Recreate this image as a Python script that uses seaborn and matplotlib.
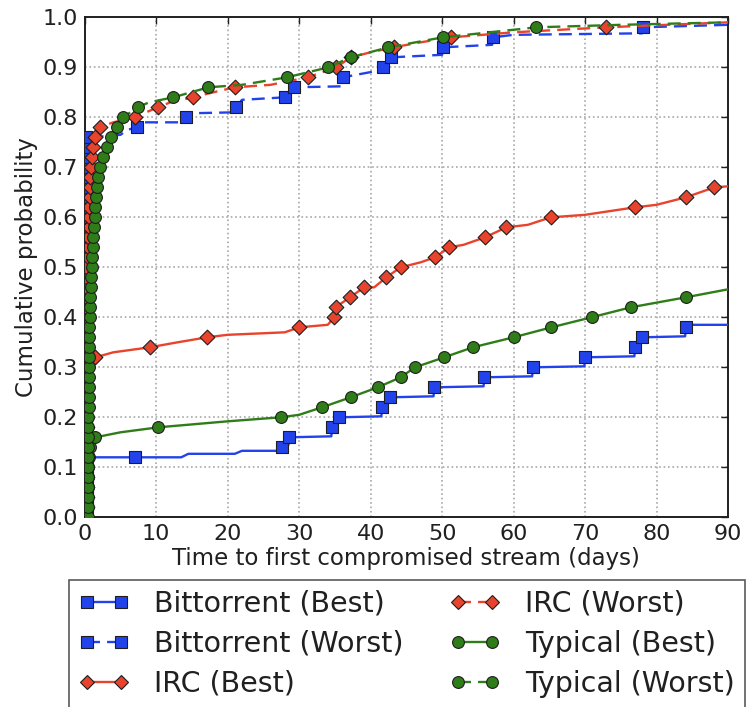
import matplotlib
matplotlib.use("Agg")
import matplotlib.pyplot as plt
import seaborn as sns
from matplotlib.lines import Line2D

# ---------------- data ----------------
labels = ["Bittorrent (Best)", "Bittorrent (Worst)", "IRC (Best)",
          "IRC (Worst)", "Typical (Best)", "Typical (Worst)"]

# Bittorrent (Best): line vertices and marker points
bt_best_x = [0.3, 0.3, 13.5, 14.5, 21, 22, 27.5, 27.6, 28.5, 28.6, 34.5, 34.6, 35.6, 41.5, 41.6,
             42.7, 48.8, 48.9, 55.8, 55.9, 62.6, 62.7, 69.9, 70, 76.9, 77, 78, 84, 84.1, 84.5, 90]
bt_best_y = [0.0, 0.12, 0.12, 0.127, 0.127, 0.133, 0.133, 0.14, 0.145, 0.16, 0.162, 0.18, 0.20, 0.202, 0.22,
             0.24, 0.242, 0.26, 0.262, 0.28, 0.282, 0.30, 0.302, 0.32, 0.322, 0.34, 0.36, 0.362, 0.38, 0.385, 0.385]
bt_best_mx = [0.3, 0.3, 0.3, 0.3, 0.3, 7, 27.6, 28.6, 34.6, 35.6, 41.6, 42.7, 48.9, 55.9, 62.7, 70, 77, 78, 84.1]
bt_best_my = [0.02, 0.04, 0.06, 0.08, 0.10, 0.12, 0.14, 0.16, 0.18, 0.20, 0.22, 0.24, 0.26, 0.28, 0.30,
              0.32, 0.34, 0.36, 0.38]

# Bittorrent (Worst)
bt_worst_x = [0.2, 0.2, 1, 5, 6, 7.3, 7.5, 14, 14.2, 14.5, 21, 21.2, 22, 28, 29.3, 36, 36.1, 41.7, 41.8,
              42.9, 50, 50.1, 57, 57.1, 60, 78, 78.1, 90]
bt_worst_y = [0.0, 0.75, 0.76, 0.765, 0.775, 0.78, 0.79, 0.79, 0.80, 0.808, 0.81, 0.82, 0.835, 0.84, 0.86,
              0.862, 0.88, 0.895, 0.90, 0.92, 0.925, 0.94, 0.945, 0.96, 0.965, 0.968, 0.98, 0.985]
bt_worst_mx = [0.2] * 38 + [7.3, 14.2, 21.2, 28, 29.3, 36.1, 41.8, 42.9, 50.1, 57.1, 78.1]
bt_worst_my = [0.02, 0.04, 0.06, 0.08, 0.10, 0.12, 0.14, 0.16, 0.18, 0.20, 0.22, 0.24, 0.26, 0.28, 0.30,
               0.32, 0.34, 0.36, 0.38, 0.40, 0.42, 0.44, 0.46, 0.48, 0.50, 0.52, 0.54, 0.56, 0.58, 0.60,
               0.62, 0.64, 0.66, 0.68, 0.70, 0.72, 0.74, 0.76,
               0.78, 0.80, 0.82, 0.84, 0.86, 0.88, 0.90, 0.92, 0.94, 0.96, 0.98]

# IRC (Best)
irc_best_x = [0.3, 0.3, 0.6, 1.5, 4, 9.1, 13, 17.1, 20, 28, 30, 34, 34.9, 35.1, 37.1, 39.1, 40.5, 42.2,
              44.2, 47, 49, 51, 53, 56, 59, 62, 65.2, 70, 77, 80, 84.1, 88.1, 90]
irc_best_y = [0.0, 0.30, 0.31, 0.32, 0.33, 0.34, 0.35, 0.36, 0.365, 0.37, 0.38, 0.385, 0.40, 0.42, 0.44,
              0.46, 0.46, 0.48, 0.50, 0.51, 0.52, 0.54, 0.545, 0.56, 0.58, 0.585, 0.60, 0.605, 0.62,
              0.625, 0.64, 0.66, 0.662]
irc_best_mx = [0.3] * 15 + [1.5, 9.1, 17.1, 30, 34.9, 35.1, 37.1, 39.1, 42.2, 44.2, 49, 51, 56, 59,
                            65.2, 77, 84.1, 88.1]
irc_best_my = [0.02, 0.04, 0.06, 0.08, 0.10, 0.12, 0.14, 0.16, 0.18, 0.20, 0.22, 0.24, 0.26, 0.28, 0.30,
               0.32, 0.34, 0.36, 0.38, 0.40, 0.42, 0.44, 0.46, 0.48, 0.50, 0.52, 0.54, 0.56, 0.58,
               0.60, 0.62, 0.64, 0.66]

# IRC (Worst)
irc_worst_x = [0.2, 0.3, 0.6, 0.9, 1.2, 1.5, 2.1, 4, 7, 10.2, 12, 15.1, 18, 21, 26, 31.2, 35.2, 37.2,
               40, 43.2, 47, 51.3, 60, 72.9, 90]
irc_worst_y = [0.0, 0.50, 0.60, 0.70, 0.74, 0.76, 0.78, 0.79, 0.80, 0.82, 0.83, 0.84, 0.85, 0.86, 0.865,
               0.88, 0.90, 0.92, 0.93, 0.94, 0.95, 0.96, 0.97, 0.98, 0.99]
irc_worst_mx = [0.25] * 25 + [0.4, 0.45, 0.5, 0.55, 0.6, 0.65, 0.7, 0.75, 0.8, 0.9, 1.0, 1.2, 1.5, 2.1,
                              7, 10.2, 15.1, 21, 31.2, 35.2, 37.2, 43.2, 51.3, 72.9]
irc_worst_my = [0.02, 0.04, 0.06, 0.08, 0.10, 0.12, 0.14, 0.16, 0.18, 0.20, 0.22, 0.24, 0.26, 0.28, 0.30,
                0.32, 0.34, 0.36, 0.38, 0.40, 0.42, 0.44, 0.46, 0.48, 0.50,
                0.52, 0.54, 0.56, 0.58, 0.60, 0.62, 0.64, 0.66, 0.68, 0.70, 0.72, 0.74, 0.76, 0.78,
                0.80, 0.82, 0.84, 0.86, 0.88, 0.90, 0.92, 0.94, 0.96, 0.98]

# Typical (Best)
typ_best_x = [0.3, 0.5, 0.8, 1.5, 5, 10.3, 20, 27.4, 30, 33.2, 37.2, 41, 44.2, 46.2, 50.3, 54.3, 60,
              65.3, 70.9, 76.4, 84.1, 90]
typ_best_y = [0.0, 0.10, 0.14, 0.16, 0.17, 0.18, 0.192, 0.20, 0.205, 0.22, 0.24, 0.26, 0.28, 0.30, 0.32,
              0.34, 0.36, 0.38, 0.40, 0.42, 0.44, 0.456]
typ_best_mx = [0.3, 0.35, 0.4, 0.45, 0.5, 0.6, 0.8, 1.5, 10.3, 27.4, 33.2, 37.2, 41, 44.2, 46.2, 50.3,
               54.3, 60, 65.3, 70.9, 76.4, 84.1]
typ_best_my = [0.02, 0.04, 0.06, 0.08, 0.10, 0.12, 0.14, 0.16, 0.18, 0.20, 0.22, 0.24, 0.26, 0.28, 0.30,
               0.32, 0.34, 0.36, 0.38, 0.40, 0.42, 0.44]

# Typical (Worst)
typ_worst_x = [0.5, 0.5, 0.6, 0.7, 0.95, 1.4, 2.1, 2.5, 3.1, 3.7, 4.5, 5.4, 7.4, 9, 12.4, 17.3, 22,
               28.3, 34.1, 37.2, 42.5, 50.1, 63.2, 75, 90]
typ_worst_y = [0.0, 0.20, 0.38, 0.40, 0.50, 0.60, 0.70, 0.72, 0.74, 0.76, 0.78, 0.80, 0.82, 0.83, 0.84,
               0.86, 0.865, 0.88, 0.90, 0.92, 0.94, 0.96, 0.98, 0.985, 0.99]
typ_worst_mx = [0.5] * 11 + [0.6] * 9 + [0.7, 0.75, 0.8, 0.85, 0.9, 0.95, 1.0, 1.1, 1.2, 1.3, 1.4,
                                         1.5, 1.6, 1.75, 1.9, 2.1, 2.5, 3.1, 3.7, 4.5, 5.4, 7.4, 12.4,
                                         17.3, 28.3, 34.1, 37.2, 42.5, 50.1, 63.2]
typ_worst_my = [0.0, 0.02, 0.04, 0.06, 0.08, 0.10, 0.12, 0.14, 0.16, 0.18, 0.20,
                0.22, 0.24, 0.26, 0.28, 0.30, 0.32, 0.34, 0.36, 0.38,
                0.40, 0.42, 0.44, 0.46, 0.48, 0.50, 0.52, 0.54, 0.56, 0.58, 0.60, 0.62, 0.64, 0.66,
                0.68, 0.70, 0.72, 0.74, 0.76, 0.78, 0.80, 0.82, 0.84, 0.86, 0.88, 0.90, 0.92, 0.94,
                0.96, 0.98]

x_ticks = [0, 10, 20, 30, 40, 50, 60, 70, 80, 90]
y_ticks = [0.0, 0.1, 0.2, 0.3, 0.4, 0.5, 0.6, 0.7, 0.8, 0.9, 1.0]
x_label = "Time to first compromised stream (days)"
y_label = "Cumulative probability"

# ---------------- styling ----------------
sns.set_style("white")
plt.rcParams["font.family"] = ["DejaVu Sans"]

BLUE = "#2243ec"
RED = "#e8432c"
GREEN = "#2f7d18"
EDGE = "#1e1e1e"
DASH = (0, (5.5, 3))

series = [
    (bt_best_x, bt_best_y, bt_best_mx, bt_best_my, BLUE, "s", "-", 8.0),
    (bt_worst_x, bt_worst_y, bt_worst_mx, bt_worst_my, BLUE, "s", DASH, 8.0),
    (irc_best_x, irc_best_y, irc_best_mx, irc_best_my, RED, "D", "-", 7.5),
    (irc_worst_x, irc_worst_y, irc_worst_mx, irc_worst_my, RED, "D", DASH, 7.5),
    (typ_best_x, typ_best_y, typ_best_mx, typ_best_my, GREEN, "o", "-", 8.5),
    (typ_worst_x, typ_worst_y, typ_worst_mx, typ_worst_my, GREEN, "o", DASH, 8.5),
]

fig = plt.figure(figsize=(7.47, 7.07), dpi=100)
ax = fig.add_axes([0.1134, 0.2683, 0.8612, 0.7072])

handles = []
for i, (lx, ly, mx, my, c, m, ls, ms) in enumerate(series):
    sns.lineplot(x=lx, y=ly, ax=ax, color=c, lw=1.7, estimator=None, sort=False,
                 legend=False)
    line = ax.lines[-1]
    line.set_linestyle(ls)
    line.set_zorder(3 + i * 0.1)
    sns.scatterplot(x=mx, y=my, ax=ax, color=c, marker=m, s=ms ** 2,
                    edgecolor=EDGE, linewidth=0.8, legend=False)
    ax.collections[-1].set_zorder(3.05 + i * 0.1)
    handles.append(Line2D([0], [0], color=c, lw=1.7, ls=ls, marker=m, ms=ms,
                          mfc=c, mec=EDGE, mew=0.8))

ax.set_xlim(0, 90)
ax.set_ylim(0, 1.0)
ax.set_xticks(x_ticks)
ax.set_yticks(y_ticks)
ax.set_xticklabels([str(t) for t in x_ticks])
ax.set_yticklabels([f"{t:.1f}" for t in y_ticks])
ax.grid(True, color="#a8a8a8", linestyle=":", linewidth=1.2)
ax.set_axisbelow(True)
for sp in ax.spines.values():
    sp.set_color("#202020")
    sp.set_linewidth(1.4)
ax.tick_params(direction="in", length=5, width=1, top=True, right=True,
               labelsize=16, colors="#202020", pad=5)
ax.set_xlabel(x_label, fontsize=16.5, color="#202020", labelpad=2)
ax.set_ylabel(y_label, fontsize=16.5, color="#202020", labelpad=3)

leg = fig.legend(handles, labels, ncol=2, numpoints=2, loc="upper left",
                 bbox_to_anchor=(0.092, 0.0, 0.905, 0.1797), mode="expand",
                 borderaxespad=0, fontsize=20.5, frameon=True, fancybox=False,
                 handlelength=1.8, handletextpad=0.85, labelspacing=0.42,
                 borderpad=0.35, columnspacing=1.0)
leg.get_frame().set_edgecolor("#303030")
leg.get_frame().set_linewidth(1.2)
for t in leg.get_texts():
    t.set_color("#202020")

fig.savefig("out.png", dpi=100)
